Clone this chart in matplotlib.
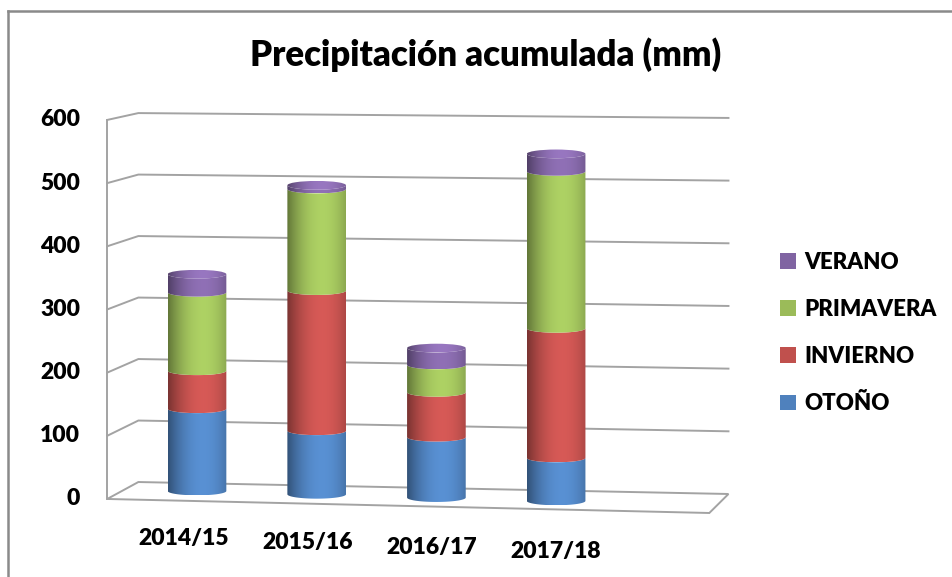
import matplotlib
matplotlib.use("Agg")
import matplotlib.pyplot as plt
import numpy as np
from matplotlib.patches import Polygon, Ellipse, Patch
from matplotlib.lines import Line2D

plt.rcParams['font.family'] = ['Lato', 'DejaVu Sans']
WEIGHT = 'heavy'

# data (mm)
years = ['2014/15', '2015/16', '2016/17', '2017/18']
otono = [132, 102, 97, 69]
invierno = [61, 225, 72, 208]
primavera = [126, 163, 44, 252]
verano = [29, 6, 27, 28]
series_names = ['OTOÑO', 'INVIERNO', 'PRIMAVERA', 'VERANO']
series_colors = ['#4F81BD', '#C0504D', '#9BBB59', '#8064A2']
yticks = [0, 100, 200, 300, 400, 500, 600]

# fake 3d geometry (category units / value units)
W = 0.245        # cylinder half width
H = 7.0          # ellipse half height
DROP = 5.3       # floor drops a bit to the right
XF, XB, XR, XFR = -0.75, -0.49, 4.44, 4.28


def front_left(v):
    return -12.8 + v * 1.014


def back_left(v):
    return 14.4 + v * 0.987


def back_right(v):
    return -4.8 + v * 1.006


def gradient(base, n=80, boost=1.0):
    u = np.linspace(0, 1, n)
    prof = 0.6 + 0.52 * (1 - ((u - 0.6) / 0.62) ** 2)
    prof = np.clip(prof, 0.55, 1.2) * boost
    rgb = np.array(matplotlib.colors.to_rgb(base))
    img = np.clip(rgb[None, :] * prof[:, None], 0, 1)
    return img[None, :, :]


def cylinder_piece(ax, cx, y0, y1, color, z):
    t1 = np.linspace(np.pi, 2 * np.pi, 40)
    t2 = t1[::-1]
    xs = np.concatenate([cx + W * np.cos(t1), cx + W * np.cos(t2)])
    ys = np.concatenate([y0 + H * np.sin(t1), y1 + H * np.sin(t2)])
    poly = Polygon(np.column_stack([xs, ys]), closed=True, transform=ax.transData)
    im = ax.imshow(gradient(color), extent=[cx - W, cx + W, y0 - H, y1 + H],
                   aspect='auto', interpolation='bilinear', zorder=z)
    im.set_clip_path(poly)


def cylinder_cap(ax, cx, y, color, z):
    ell = Ellipse((cx, y), 2 * W, 2 * H, transform=ax.transData)
    im = ax.imshow(gradient(color, boost=1.06), extent=[cx - W, cx + W, y - H, y + H],
                   aspect='auto', interpolation='bilinear', zorder=z)
    im.set_clip_path(ell)


fig = plt.figure(figsize=(9.53, 5.77), dpi=100)
ax = fig.add_axes([0, 0, 1, 1])

grid_c = '#a3a3a3'
# walls and floor
for v in yticks[1:]:
    ax.plot([XF, XB, XR], [front_left(v), back_left(v), back_right(v)],
            color=grid_c, lw=1.4, zorder=1, solid_joinstyle='miter')
floor = [(XF, front_left(0)), (XB, back_left(0)), (XR, back_right(0)), (XFR, -35.3)]
ax.add_patch(Polygon(floor, closed=True, fill=False, edgecolor=grid_c, lw=1.4, zorder=1))
ax.plot([XF, XF], [front_left(0), front_left(600)], color=grid_c, lw=1.4, zorder=1)

# stacked cylinders
data = [otono, invierno, primavera, verano]
for i in range(len(years)):
    base = -DROP * i
    cum = base
    z = 3 + i * 10
    for k, vals in enumerate(data):
        cylinder_piece(ax, i, cum, cum + vals[i], series_colors[k], z + k)
        cum += vals[i]
    cylinder_cap(ax, i, cum, series_colors[-1], z + 5)

# axis labels
for v in yticks:
    ax.text(-0.977, front_left(v), str(v), ha='right', va='center', fontsize=16.5,
            fontweight=WEIGHT)
for i, lab in enumerate(years):
    ax.text(i * 1.035 - 0.11, -75.5 - 7.4 * i, lab, ha='center', va='center',
            fontsize=16.5, fontweight=WEIGHT)

ax.set_xlim(-1.6458, 6.3158)
ax.set_ylim(-138.04, 788.1)
ax.axis('off')

fig.text(0.510, 1 - 66 / 577, 'Precipitación acumulada (mm)', ha='center', va='baseline',
         fontsize=25, fontweight=WEIGHT)

handles = [Patch(facecolor=series_colors[k], edgecolor='none') for k in range(3, -1, -1)]
labels = [series_names[k] for k in range(3, -1, -1)]
fig.legend(handles, labels, loc='center left', bbox_to_anchor=(780 / 953, 1 - 333 / 577),
           frameon=False, handlelength=0.72, handleheight=0.72,
           handletextpad=0.36, labelspacing=1.18, borderpad=0, borderaxespad=0,
           prop={'weight': WEIGHT, 'size': 16})

# chart border
bc = '#8a8a8a'
fig.add_artist(Line2D([8 / 953, 8 / 953], [0, 1 - 11 / 577], transform=fig.transFigure,
                      color=bc, lw=1.8))
fig.add_artist(Line2D([8 / 953, 1], [1 - 11 / 577, 1 - 11 / 577], transform=fig.transFigure,
                      color=bc, lw=1.8))

fig.savefig('out.png', dpi=100)
